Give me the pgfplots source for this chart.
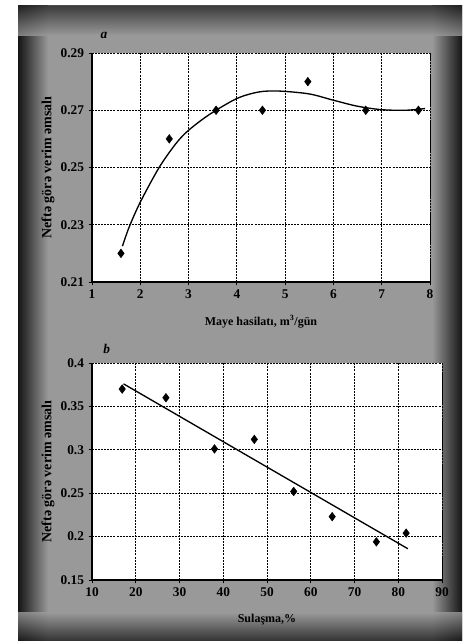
\documentclass[border=0pt]{standalone}
\usepackage{pgfplots}
\pgfplotsset{compat=1.18}
\usepackage{fontspec}
\setmainfont{Liberation Serif}
\begin{document}
\begin{tikzpicture}
% page and scanned background
\fill[white] (0,0) rectangle (350.25pt,481.5pt);
\fill[black!40] (13.5pt,0.75pt) rectangle (346.5pt,477pt);
\shade[left color=black!92,right color=black!40] (13.5pt,0.75pt) rectangle (36pt,477pt);
\shade[left color=black!40,right color=black!92] (324pt,0.75pt) rectangle (346.5pt,477pt);
\shade[top color=black!85,bottom color=black!40,opacity=0.8] (13.5pt,455pt) rectangle (346.5pt,477pt);
\shade[top color=black!40,bottom color=black!90,opacity=0.8] (13.5pt,0.75pt) rectangle (346.5pt,22pt);

\pgfplotsset{
  every axis/.append style={
    scale only axis,
    font=\bfseries\small,
    tick label style={font=\bfseries\normalsize},
    /pgf/number format/assume math mode=true,
    axis line style={draw=none},
    axis background/.style={fill=white},
    grid=major,
    major grid style={black, line width=0.7pt, dash pattern=on 1.5pt off 0.8pt},
    tick align=outside,
    major tick length=2.5pt,
    tick style={black, line width=0.6pt},
    xtick pos=bottom, ytick pos=left,
    yticklabel style={/pgf/number format/fixed, /pgf/number format/precision=2},
    ylabel style={at={([xshift=-33pt]axis description cs:0,0.5)}, anchor=center, font=\bfseries\fontsize{10.5}{12}\selectfont},
    xlabel style={at={([yshift=-30pt]axis description cs:0.5,0)}, anchor=center},
  }
}

% ---- panel a ----
\begin{axis}[
  at={(69pt,270pt)}, anchor=south west,
  width=253.5pt, height=171.75pt,
  xmin=1, xmax=8, ymin=0.21, ymax=0.29,
  xtick={1,2,...,8},
  ytick={0.21,0.23,0.25,0.27,0.29},
  ylabel={Neftə görə verim əmsalı},
  xlabel={Maye hasilatı, m\textsuperscript{3}/gün},
  clip=false,
]
\addplot[black, line width=1pt, smooth] coordinates {
 (1.63,0.2225) (1.77,0.2292) (2.0,0.2379) (2.39,0.2500) (2.74,0.2584) (3.0,0.2630)
 (3.43,0.2685) (4.0,0.2741) (4.46,0.2764) (4.88,0.2767) (5.5,0.2757)
 (6.0,0.2735) (6.5,0.2714) (7.0,0.2702) (7.5,0.2700) (7.9,0.2706)};
\addplot[only marks, mark=diamond*, mark size=3.2pt, black] coordinates {
 (1.60,0.220) (2.60,0.260) (3.57,0.270) (4.53,0.270) (5.47,0.280) (6.67,0.270) (7.76,0.270)};
\draw[black, line width=0.6pt, dash pattern=on 1.5pt off 0.8pt] (rel axis cs:0,1) -- (rel axis cs:1,1) -- (rel axis cs:1,0);
\draw[black, line width=0.9pt] (rel axis cs:0,1) -- (rel axis cs:0,0) -- (rel axis cs:1,0);
\node[font=\bfseries\itshape\normalsize] at ([xshift=9pt,yshift=13.5pt]rel axis cs:0,1) {a};
\end{axis}

% ---- panel b ----
\begin{axis}[
  at={(69pt,46.5pt)}, anchor=south west,
  width=262.5pt, height=162.75pt,
  xmin=10, xmax=90, ymin=0.15, ymax=0.4,
  xtick={10,20,...,90},
  ytick={0.15,0.2,0.25,0.3,0.35,0.4},
  ylabel={Neftə görə verim əmsalı},
  xlabel={Sulaşma,\%},
  clip=false,
]
\addplot[black, line width=1pt] coordinates {(17.2,0.376) (82.2,0.186)};
\addplot[only marks, mark=diamond*, mark size=3.2pt, black] coordinates {
 (16.9,0.370) (26.9,0.360) (38.0,0.301) (47.1,0.312) (56.1,0.252) (64.9,0.223) (75.0,0.194) (81.8,0.204)};
\draw[black, line width=0.6pt, dash pattern=on 1.5pt off 0.8pt] (rel axis cs:0,1) -- (rel axis cs:1,1) -- (rel axis cs:1,0);
\draw[black, line width=0.9pt] (rel axis cs:0,1) -- (rel axis cs:0,0) -- (rel axis cs:1,0);
\node[font=\bfseries\itshape\normalsize] at ([xshift=11pt,yshift=10.5pt]rel axis cs:0,1) {b};
\end{axis}
\end{tikzpicture}
\end{document}
